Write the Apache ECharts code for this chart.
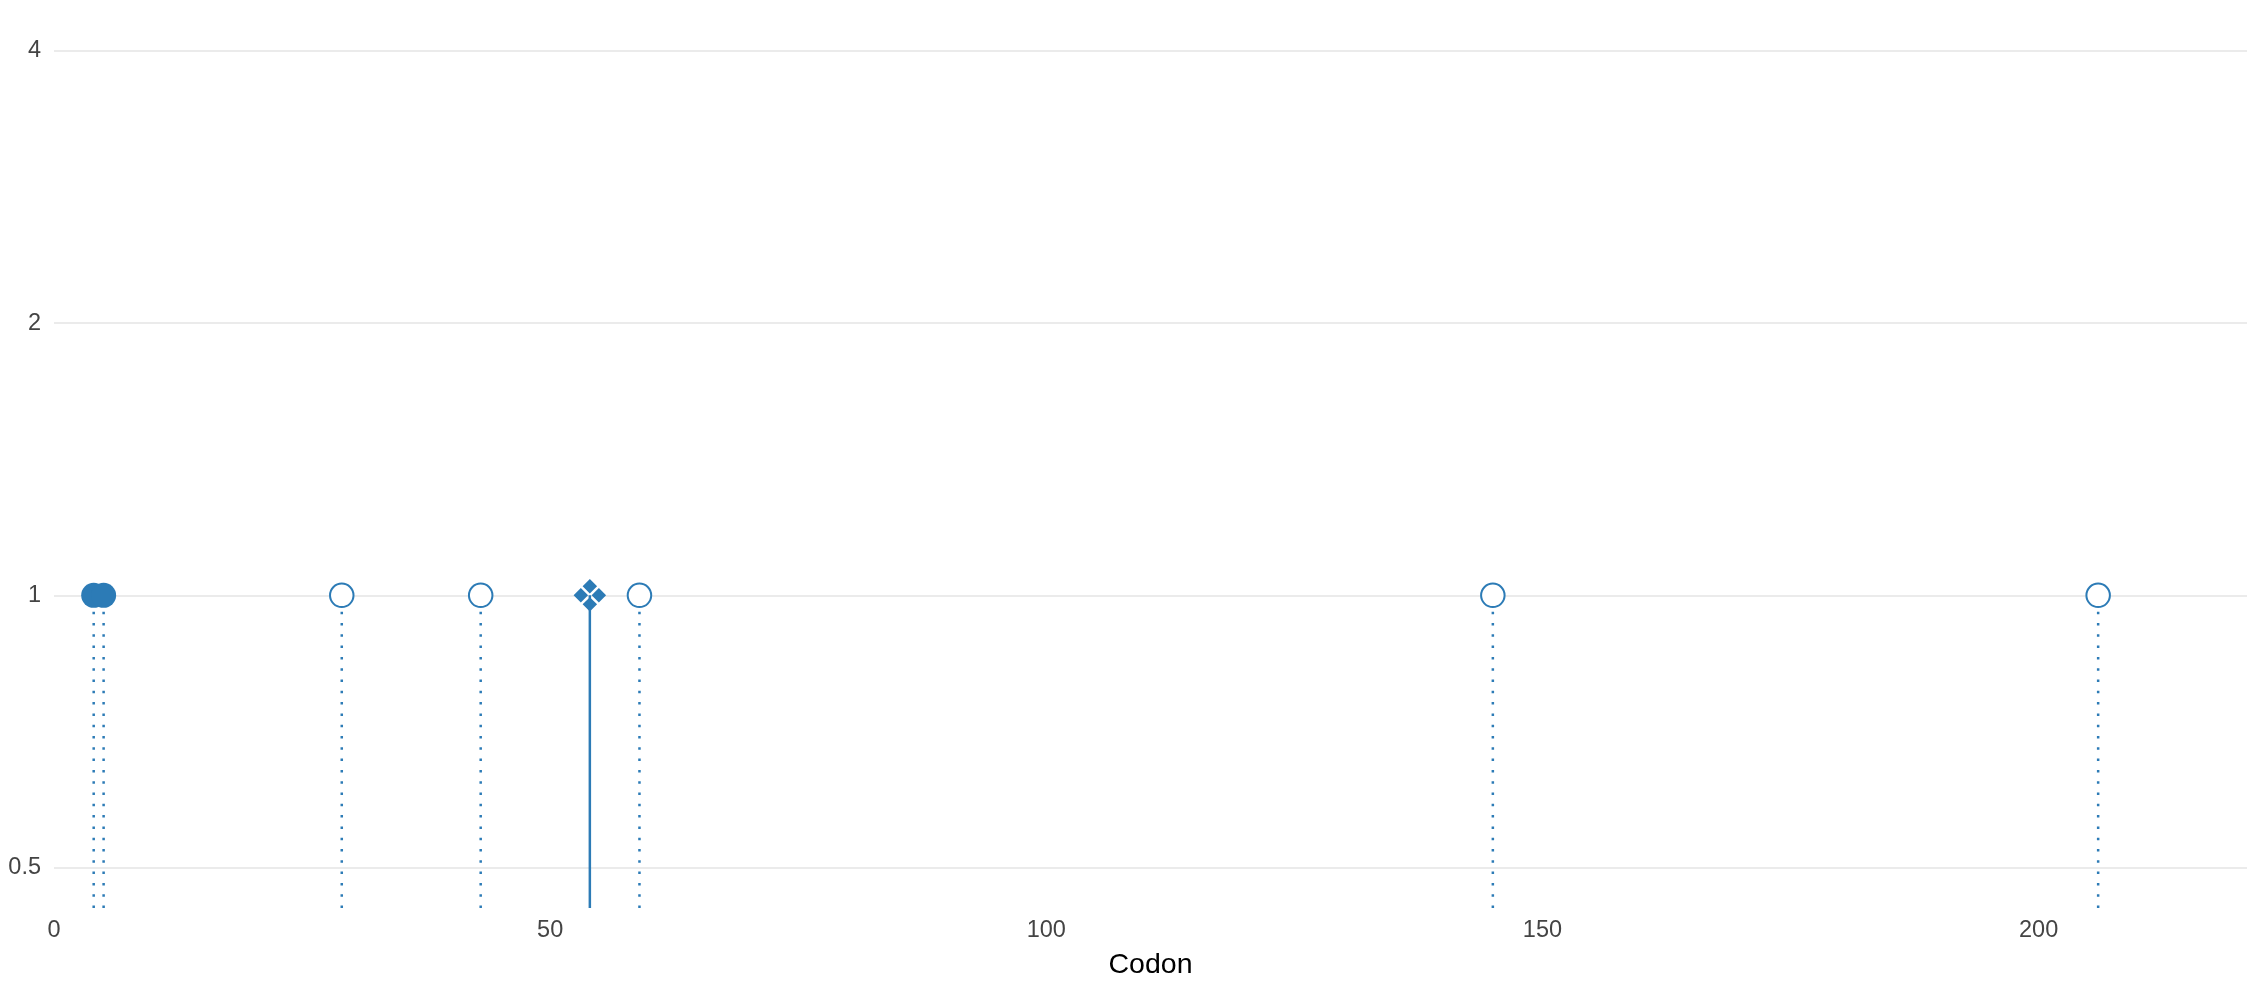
<!DOCTYPE html>
<html>
<head>
<meta charset="utf-8">
<script src="https://cdn.jsdelivr.net/npm/echarts@6/dist/echarts.min.js"></script>
<style>
  html, body { margin: 0; padding: 0; background: #fff; }
  #chart { width: 2247px; height: 986px; }
</style>
</head>
<body>
<div id="chart"></div>
<script>
// ---- data ----
const filledCodons = [4, 5];
const filledValues = [1, 1];
const openCodons = [29, 43, 59, 145, 206];
const openValues = [1, 1, 1, 1, 1];
const diamondCodons = [54];
const diamondValues = [1];
const xTickLabels = [0, 50, 100, 150, 200];
const yTickLabels = [0.5, 1, 2, 4];
const xTitle = 'Codon';

// ---- styling ----
const BLUE = '#2c7bb6';
const FONT = '"Liberation Sans", Arial, Helvetica, sans-serif';
const diamondX = 'path://M0,-20 L8.9,-11.1 L0,-2.2 L-8.9,-11.1 Z M20,0 L11.1,8.9 L2.2,0 L11.1,-8.9 Z M0,20 L-8.9,11.1 L0,2.2 L8.9,11.1 Z M-20,0 L-11.1,-8.9 L-2.2,0 L-11.1,8.9 Z';

function pairs(xs, ys) { return xs.map((x, i) => [x, ys[i]]); }

const stemData = [
  ...pairs(filledCodons, filledValues).map(p => [p[0], p[1], 0]),
  ...pairs(openCodons, openValues).map(p => [p[0], p[1], 0]),
  ...pairs(diamondCodons, diamondValues).map(p => [p[0], p[1], 1])
];

const chart = echarts.init(document.getElementById('chart'), null, { renderer: 'canvas' });
chart.setOption({
  animation: false,
  backgroundColor: '#ffffff',
  grid: { left: 54, right: 0, top: 0, bottom: 78, containLabel: false },
  xAxis: {
    type: 'value',
    min: 0,
    max: 221,
    interval: 50,
    name: xTitle,
    nameLocation: 'middle',
    nameGap: 43,
    nameTextStyle: { color: '#000', fontSize: 28.5, fontFamily: FONT },
    axisLine: { show: false },
    axisTick: { show: false },
    splitLine: { show: false },
    axisLabel: {
      color: '#444', fontSize: 23.5, fontFamily: FONT, margin: 11,
      showMaxLabel: false,
      formatter: v => (xTickLabels.indexOf(v) >= 0 ? String(v) : '')
    }
  },
  yAxis: {
    type: 'log',
    logBase: 2,
    min: 0.4511,
    max: 4.553,
    splitNumber: 5,
    axisLine: { show: false },
    axisTick: { show: false },
    splitLine: { show: true, showMinLine: false, showMaxLine: false, lineStyle: { color: '#ebebeb', width: 2 } },
    axisLabel: {
      color: '#444', fontSize: 23.5, fontFamily: FONT, margin: 13,
      showMinLabel: false, showMaxLabel: false,
      formatter: v => {
        const r = Math.round(v * 1000) / 1000;
        return yTickLabels.indexOf(r) >= 0 ? String(r) : '';
      }
    }
  },
  series: [
    {
      type: 'custom',
      z: 1,
      data: stemData,
      clip: true,
      renderItem: function (params, api) {
        const x = api.value(0), y = api.value(1), solid = api.value(2) === 1;
        const top = api.coord([x, y]);
        const cs = params.coordSys;
        const bottom = cs.y + cs.height;
        return {
          type: 'line',
          shape: { x1: top[0], y1: bottom, x2: top[0], y2: top[1] },
          style: solid
            ? { stroke: BLUE, lineWidth: 2.5 }
            : { stroke: BLUE, lineWidth: 2.5, lineDash: [2.5, 8.8], lineCap: 'butt' }
        };
      }
    },
    {
      type: 'scatter',
      z: 3,
      symbol: 'circle',
      symbolSize: 25,
      itemStyle: { color: BLUE, opacity: 1 },
      data: pairs(filledCodons, filledValues)
    },
    {
      type: 'scatter',
      z: 3,
      symbol: 'circle',
      symbolSize: 23.5,
      itemStyle: { color: '#ffffff', borderColor: BLUE, borderWidth: 2, opacity: 1 },
      data: pairs(openCodons, openValues)
    },
    {
      type: 'scatter',
      z: 3,
      symbol: diamondX,
      symbolSize: 32.5,
      itemStyle: { color: BLUE, opacity: 1 },
      data: pairs(diamondCodons, diamondValues)
    }
  ]
});
</script>
</body>
</html>
